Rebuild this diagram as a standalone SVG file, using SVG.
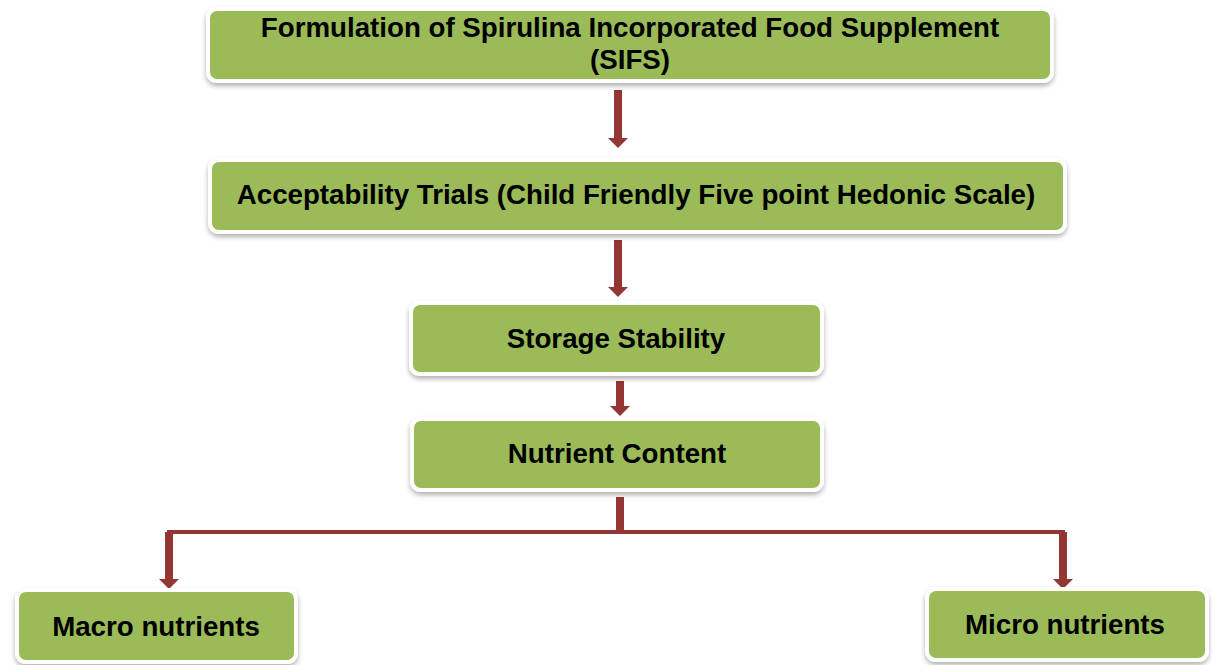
<svg xmlns="http://www.w3.org/2000/svg" width="1212" height="665" viewBox="0 0 1212 665">
<style>
.box{fill:#9BBB59;stroke:#FFFFFF;stroke-width:4;filter:url(#sh)}
.t{font-family:"Liberation Sans",Arial,sans-serif;font-weight:bold;font-size:27.7px;fill:#000;text-anchor:middle}
.ln{stroke:#943634;fill:none}
.hd{fill:#943634}
</style>
<defs>
<filter id="sh" x="-5%" y="-20%" width="110%" height="150%">
<feDropShadow dx="0" dy="3" stdDeviation="2.5" flood-color="#000" flood-opacity="0.3"/>
</filter>
</defs>
<rect width="1212" height="665" fill="#FFFFFF"/>
<g id="connectors">
<line class="ln" x1="618" y1="90" x2="618" y2="139" stroke-width="8"/>
<polygon class="hd" points="608,138 628,138 618,148"/>
<line class="ln" x1="618" y1="240" x2="618" y2="288" stroke-width="8"/>
<polygon class="hd" points="608,287 628,287 618,297"/>
<line class="ln" x1="620" y1="381" x2="620" y2="407" stroke-width="8"/>
<polygon class="hd" points="610,406 630,406 620,416"/>
<line class="ln" x1="620" y1="497" x2="620" y2="533" stroke-width="8"/>
<polyline class="ln" points="169,580 169,532 1063,532 1063,580" stroke-width="4"/>
<line class="ln" x1="169" y1="532" x2="169" y2="580" stroke-width="8"/>
<line class="ln" x1="1063" y1="532" x2="1063" y2="580" stroke-width="8"/>
<polygon class="hd" points="159,579 179,579 169,589"/>
<polygon class="hd" points="1053,579 1073,579 1063,589"/>
</g>
<g id="n1">
<rect class="box" x="208" y="9" width="844" height="72" rx="9"/>
<text class="t" x="630" y="37">Formulation of Spirulina Incorporated Food Supplement</text>
<text class="t" x="630" y="69">(SIFS)</text>
</g>
<g id="n2">
<rect class="box" x="210" y="160" width="855" height="72" rx="9"/>
<text class="t" x="636" y="204">Acceptability Trials (Child Friendly Five point Hedonic Scale)</text>
</g>
<g id="n3">
<rect class="box" x="411" y="303" width="411" height="71" rx="9"/>
<text class="t" x="616" y="348">Storage Stability</text>
</g>
<g id="n4">
<rect class="box" x="412" y="419" width="410" height="71" rx="9"/>
<text class="t" x="617" y="463">Nutrient Content</text>
</g>
<g id="n5">
<rect class="box" x="17" y="590" width="279" height="72" rx="9"/>
<text class="t" x="156" y="636">Macro nutrients</text>
</g>
<g id="n6">
<rect class="box" x="927" y="589" width="280" height="71" rx="9"/>
<text class="t" x="1065" y="634">Micro nutrients</text>
</g>
</svg>
